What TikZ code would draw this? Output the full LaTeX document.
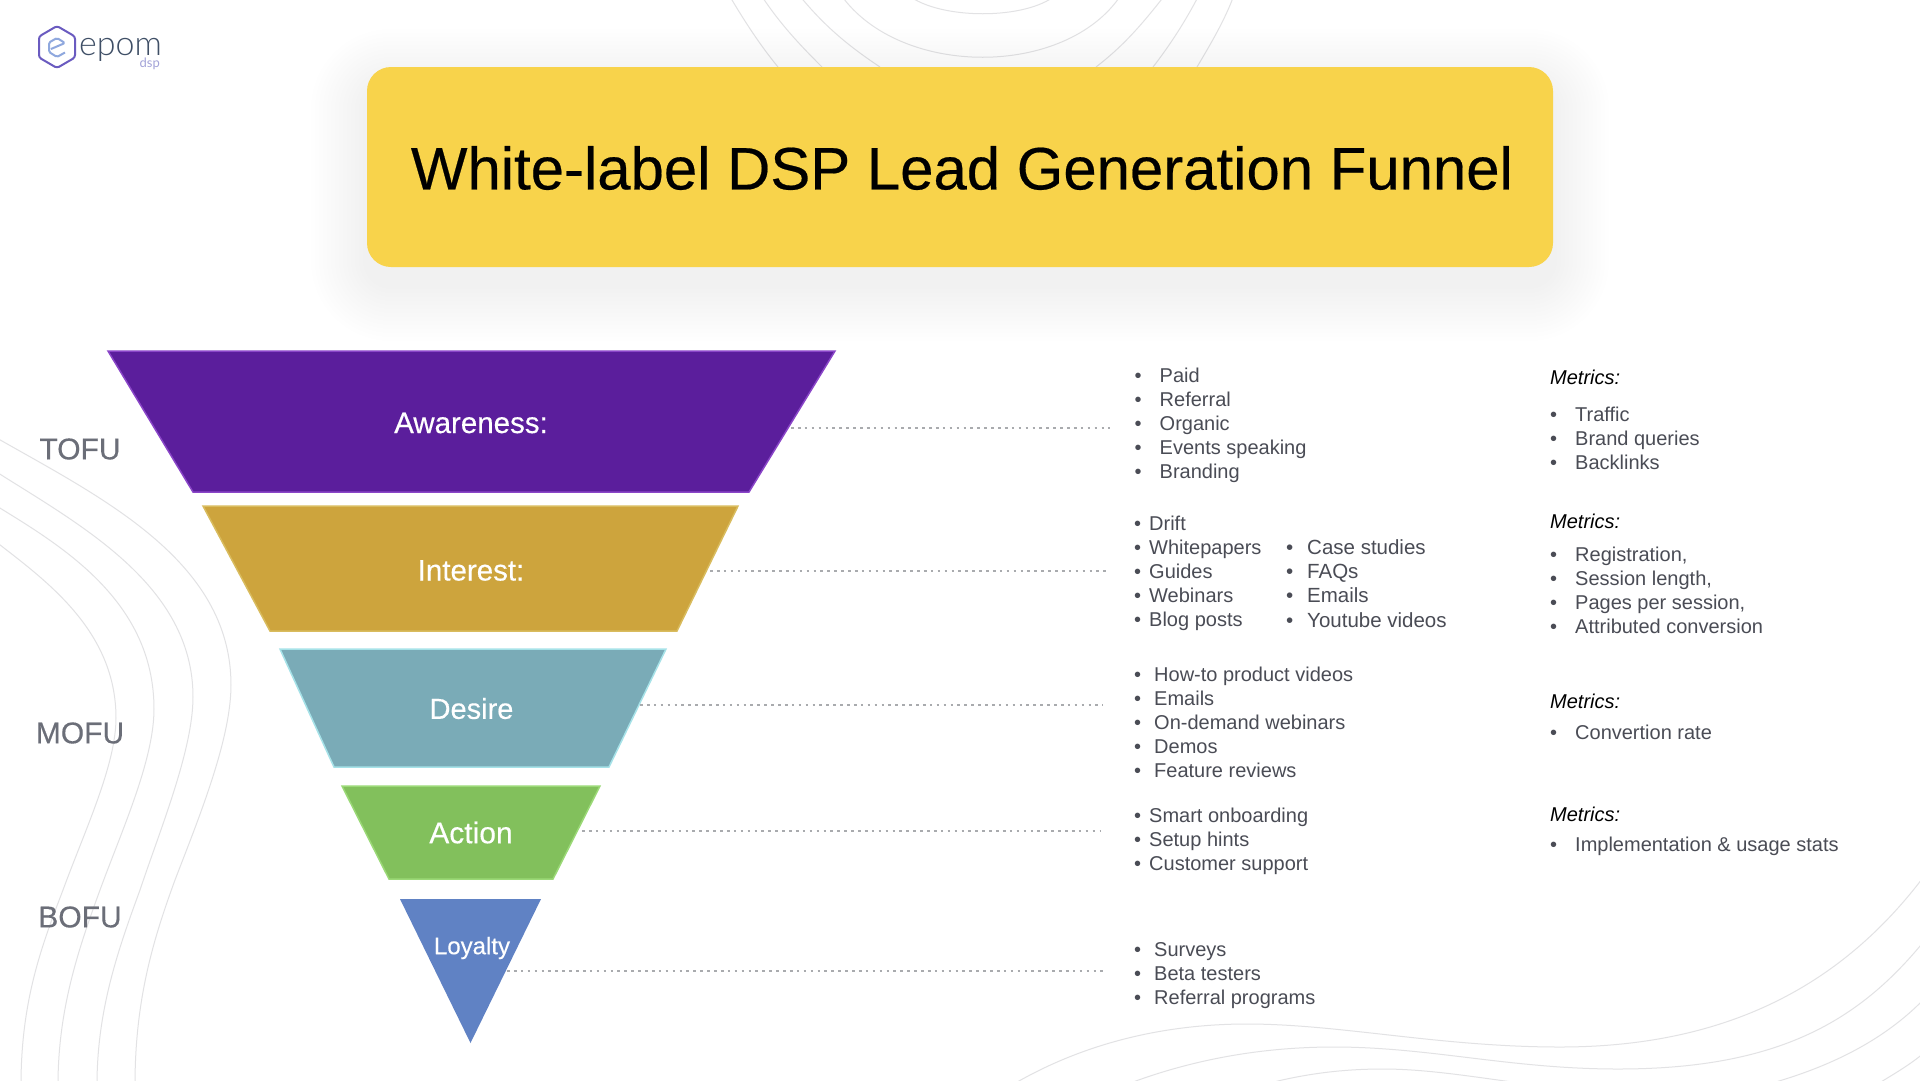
\documentclass[tikz,border=0pt]{standalone}
\usepackage{fontspec}
\setmainfont{Liberation Sans}
\newfontfamily\logofont{Lato Light}
\newfontfamily\logosubfont{Lato}
\newfontfamily\medfont[FakeBold=0.35]{Liberation Sans}
\usetikzlibrary{calc}
\definecolor{txtgrey}{HTML}{4A4C55}
\definecolor{sidegrey}{HTML}{6B6E78}
\definecolor{curvegrey}{HTML}{E2E2E4}
\definecolor{dotgrey}{HTML}{A9ABAE}
\newcommand{\fsz}[1]{\fontsize{#1}{#1}\selectfont}
\newcommand{\blist}[2]{\makebox[#1pt][l]{\textbullet}#2}
\tikzset{
  x=1pt,y=-1pt,
  bgcurve/.style={draw=curvegrey,line width=1pt},
  funnelpart/.style={line width=1.5pt,line join=miter},
  funnellabel/.style={text=white,inner sep=0pt,anchor=center},
  sidelabel/.style={text=sidegrey,inner sep=0pt,anchor=center,font=\medfont\fsz{30}},
  dotline/.style={draw=dotgrey,line width=2.6pt,line cap=butt,dash pattern=on 2.6pt off 4.3pt},
  listblock/.style={text=txtgrey,inner sep=0pt,anchor=north west,align=left,font=\fontsize{20}{24}\selectfont},
  metriclabel/.style={text=black,inner sep=0pt,anchor=west,font=\fsz{20}\itshape},
}
\begin{document}
\begin{tikzpicture}
\useasboundingbox (0,0) rectangle (1920,1080);
\fill[white] (0,0) rectangle (1920,1080);
\begin{scope}
\clip (0,0) rectangle (1920,1080);
% left
\draw[bgcurve] (-5,437) .. controls (100,497) and (231,560) .. (231,685) .. controls (231,740) and (198,820) .. (175,880) .. controls (153,940) and (135,1000) .. (135,1085);
\draw[bgcurve] (-5,471) .. controls (80,525) and (193,585) .. (193,697) .. controls (193,750) and (160,830) .. (140,890) .. controls (118,950) and (97,1010) .. (97,1085);
\draw[bgcurve] (-5,505) .. controls (60,545) and (154,600) .. (154,709) .. controls (154,760) and (122,830) .. (100,890) .. controls (78,950) and (58,1010) .. (58,1085);
\draw[bgcurve] (-5,541) .. controls (45,580) and (116,630) .. (116,718) .. controls (116,765) and (85,830) .. (63,890) .. controls (42,945) and (21,1000) .. (21,1085);
% top
\draw[bgcurve] (908,-5) .. controls (940,20) and (1026,20) .. (1056,-5);
\draw[bgcurve] (841,-5) .. controls (900,78) and (1066,78) .. (1121,-5);
\draw[bgcurve] (799,-5) .. controls (825,27) and (850,47) .. (880,67);
\draw[bgcurve] (1165,-5) .. controls (1140,27) and (1122,47) .. (1096,67);
\draw[bgcurve] (761,-5) .. controls (780,24) and (800,45) .. (822,67);
\draw[bgcurve] (1199,-5) .. controls (1185,22) and (1170,45) .. (1153,67);
\draw[bgcurve] (729,-5) .. controls (745,22) and (760,45) .. (778,67);
\draw[bgcurve] (1234,-5) .. controls (1225,20) and (1210,45) .. (1197,67);
% bottom right
\draw[bgcurve] (1012,1085) .. controls (1080,1045) and (1160,1024) .. (1247,1024) .. controls (1340,1024) and (1440,1047) .. (1560,1047) .. controls (1740,1047) and (1850,975) .. (1925,875);
\draw[bgcurve] (1125,1085) .. controls (1190,1060) and (1260,1047) .. (1334,1047) .. controls (1430,1047) and (1510,1069) .. (1618,1069) .. controls (1780,1069) and (1860,1020) .. (1925,940);
\draw[bgcurve] (1262,1085) .. controls (1310,1072) and (1350,1069) .. (1383,1069) .. controls (1430,1069) and (1480,1078) .. (1535,1085);
\draw[bgcurve] (1765,1085) .. controls (1820,1070) and (1880,1045) .. (1925,998);
\draw[bgcurve] (1876,1085) .. controls (1892,1075) and (1910,1065) .. (1925,1052);
\end{scope}
% shadow of the title box
\foreach \s in {4,8,...,56}{
  \fill[black,opacity=.0028,rounded corners={24+\s*1pt}]
    ({367-\s},{67+18-\s}) rectangle ({1553+\s},{267+18+\s});
}
% title box
\definecolor{titleyellow}{HTML}{F8D34B}
\fill[titleyellow,rounded corners=24pt] (367,67) rectangle (1553,267);
\node[inner sep=0pt,anchor=center,text=black,font=\medfont\fsz{59.9}] (title) at (962,168) {White-label DSP Lead Generation Funnel};
% logo
\definecolor{logopurple}{HTML}{6A5BC0}
\definecolor{logoblue}{HTML}{8FA8DE}
\definecolor{logodark}{HTML}{3F4F66}
\definecolor{logolight}{HTML}{A3A3D8}
\draw[logopurple,line width=2pt,line join=round,rounded corners=2.5pt] (57,26) -- (75,36.5) -- (75,57.5) -- (57,68) -- (39,57.5) -- (39,36.5) -- cycle;
\draw[logoblue,line width=2pt,line join=round,rounded corners=1.5pt] (51,49) -- (65,43) -- (57,38) -- (49,42.5) -- (49,52) -- (57,57) -- (65,52.5);
\node[inner sep=0pt,anchor=base west,text=logodark,font=\logofont\fsz{34}] (logoword) at (79,55) {epom};
\node[inner sep=0pt,anchor=base east,text=logolight,font=\logosubfont\fsz{13}] (logosub) at (160,67) {dsp};
% funnel
\definecolor{cAware}{HTML}{5B1E9C}\definecolor{bAware}{HTML}{8A45C8}
\definecolor{cInter}{HTML}{CDA43D}\definecolor{bInter}{HTML}{D9BC5E}
\definecolor{cDesir}{HTML}{7AABB7}\definecolor{bDesir}{HTML}{A6E2E8}
\definecolor{cActio}{HTML}{82C05C}\definecolor{bActio}{HTML}{9BD977}
\definecolor{cLoyal}{HTML}{6082C4}\definecolor{bLoyal}{HTML}{7B9BD6}
\draw[funnelpart,fill=cAware,draw=bAware] (108,351) -- (835,351) -- (749,492) -- (193,492) -- cycle;
\draw[funnelpart,fill=cInter,draw=bInter] (203,506) -- (738,506) -- (677,631) -- (270,631) -- cycle;
\draw[funnelpart,fill=cDesir,draw=bDesir] (280,649) -- (666,649) -- (609,767) -- (334,767) -- cycle;
\draw[funnelpart,fill=cActio,draw=bActio] (342,786) -- (600,786) -- (553,879) -- (389,879) -- cycle;
\fill[cLoyal] (400,899) -- (541,899) -- (470.5,1043) -- cycle;
\node[funnellabel,font=\medfont\fsz{29.5}] (awareness) at (471,423) {Awareness:};
\node[funnellabel,font=\medfont\fsz{29.5}] (interest) at (471,570.5) {Interest:};
\node[funnellabel,font=\medfont\fsz{29}] (desire) at (471.5,708.5) {Desire};
\node[funnellabel,font=\medfont\fsz{30}] (action) at (471,832.5) {Action};
\node[funnellabel,font=\medfont\fsz{24}] (loyalty) at (472,948) {Loyalty};
% side labels
\node[sidelabel] (tofu) at (80,449) {TOFU};
\node[sidelabel] (mofu) at (80,733) {MOFU};
\node[sidelabel] (bofu) at (80,917) {BOFU};
% dotted connectors
\coordinate (a1) at (791,428); \coordinate (a2) at (1110,428);
\coordinate (i1) at (710,571); \coordinate (i2) at (1110,571);
\coordinate (d1) at (640,705); \coordinate (d2) at (1103,705);
\coordinate (c1) at (582,831); \coordinate (c2) at (1100,831);
\coordinate (l1) at (507,971); \coordinate (l2) at (1104,971);
\draw[dotline] (a1) -- (a2);
\draw[dotline] (i1) -- (i2);
\draw[dotline] (d1) -- (d2);
\draw[dotline] (c1) -- (c2);
\draw[dotline] (l1) -- (l2);
% lists
\node[listblock] (la) at (1134.5,367.5) {\blist{25}{Paid}\\\blist{25}{Referral}\\\blist{25}{Organic}\\\blist{25}{Events speaking}\\\blist{25}{Branding}};
\node[listblock] (lb) at (1134,515.5) {\blist{15}{Drift}\\\blist{15}{Whitepapers}\\\blist{15}{Guides}\\\blist{15}{Webinars}\\\blist{15}{Blog posts}};
\node[listblock,font=\fontsize{20.5}{24.4}\selectfont] (lb2) at (1286,539) {\blist{21}{Case studies}\\\blist{21}{FAQs}\\\blist{21}{Emails}\\\blist{21}{Youtube videos}};
\node[listblock] (lc) at (1134,667) {\blist{20}{How-to product videos}\\\blist{20}{Emails}\\\blist{20}{On-demand webinars}\\\blist{20}{Demos}\\\blist{20}{Feature reviews}};
\node[listblock] (ld) at (1134,808) {\blist{15}{Smart onboarding}\\\blist{15}{Setup hints}\\\blist{15}{Customer support}};
\node[listblock] (le) at (1134,942.5) {\blist{20}{Surveys}\\\blist{20}{Beta testers}\\\blist{20}{Referral programs}};
% metrics
\node[metriclabel] (m1) at (1550,377) {Metrics:};
\node[metriclabel] (m2) at (1550,521) {Metrics:};
\node[metriclabel] (m3) at (1550,701.5) {Metrics:};
\node[metriclabel] (m4) at (1550,814) {Metrics:};
\node[listblock] (ma) at (1550,406.5) {\blist{25}{Traffic}\\\blist{25}{Brand queries}\\\blist{25}{Backlinks}};
\node[listblock] (mb) at (1550,547) {\blist{25}{Registration,}\\\blist{25}{Session length,}\\\blist{25}{Pages per session,}\\\blist{25}{Attributed conversion}};
\node[listblock] (mc) at (1550,724.5) {\blist{25}{Convertion rate}};
\node[listblock] (md) at (1550,836.5) {\blist{25}{Implementation \& usage stats}};
\end{tikzpicture}
\end{document}
